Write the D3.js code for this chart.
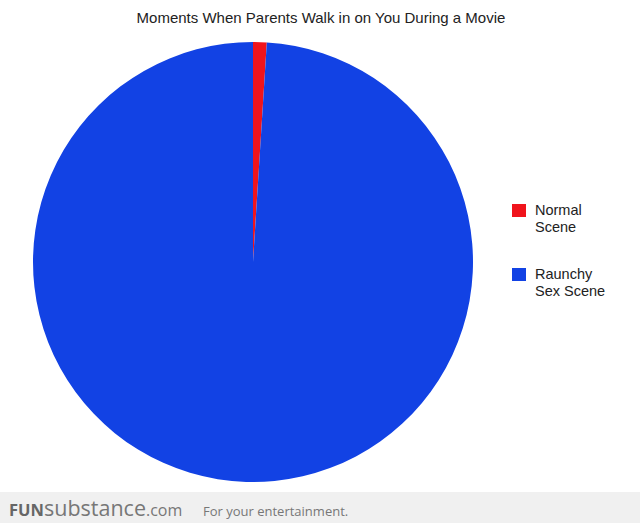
<!DOCTYPE html>
<html><head><meta charset="utf-8">
<script src="https://cdn.jsdelivr.net/npm/d3@7"></script>
<style>body{margin:0;background:#fff}svg{display:block}</style>
</head><body>
<script>
const categories = ["Normal Scene", "Raunchy Sex Scene"];
const legendLines = [["Normal", "Scene"], ["Raunchy", "Sex Scene"]];
const values = [1, 99];
const colors = ["#f0141c", "#1242e4"];
const title = "Moments When Parents Walk in on You During a Movie";

const W = 640, H = 523;
const svg = d3.select("body").append("svg").attr("width", W).attr("height", H);
svg.append("rect").attr("width", W).attr("height", H).attr("fill", "#fff");

svg.append("text").attr("x", 321).attr("y", 23).attr("text-anchor", "middle")
  .attr("font-family", "Liberation Sans, Arial, sans-serif").attr("font-size", 15)
  .attr("fill", "#222").text(title);

const cx = 253, cy = 262, r = 220;
const pie = d3.pie().sort(null).value(d => d)(values);
const arc = d3.arc().innerRadius(0).outerRadius(r);
const g = svg.append("g").attr("transform", `translate(${cx},${cy})`);
g.selectAll("path").data(pie).join("path").attr("d", arc)
  .attr("fill", (d, i) => colors[i]);

const lg = svg.append("g").attr("font-family", "Liberation Sans, Arial, sans-serif")
  .attr("font-size", 14.5).attr("fill", "#222");
categories.forEach((c, i) => {
  const y0 = 204 + i * 64;
  lg.append("rect").attr("x", 512).attr("y", y0).attr("width", 14).attr("height", 13).attr("fill", colors[i]);
  legendLines[i].forEach((t, j) => {
    lg.append("text").attr("x", 535).attr("y", y0 + 11 + j * 17).text(t);
  });
});

// footer
svg.append("rect").attr("x", 0).attr("y", 492).attr("width", W).attr("height", 31).attr("fill", "#f0f0f0");
const ft = svg.append("text").attr("x", 9).attr("y", 516).attr("font-family", "Open Sans, sans-serif").attr("fill", "#666");
ft.append("tspan").attr("font-weight", "bold").attr("font-size", 16.5).text("FUN");
ft.append("tspan").attr("font-size", 21.5).attr("fill", "#777").text("substance");
ft.append("tspan").attr("font-size", 16).attr("fill", "#777").text(".com");
svg.append("text").attr("x", 203).attr("y", 516).attr("font-family", "Open Sans, sans-serif")
  .attr("font-size", 13).attr("fill", "#777").text("For your entertainment.");
</script>
</body></html>
